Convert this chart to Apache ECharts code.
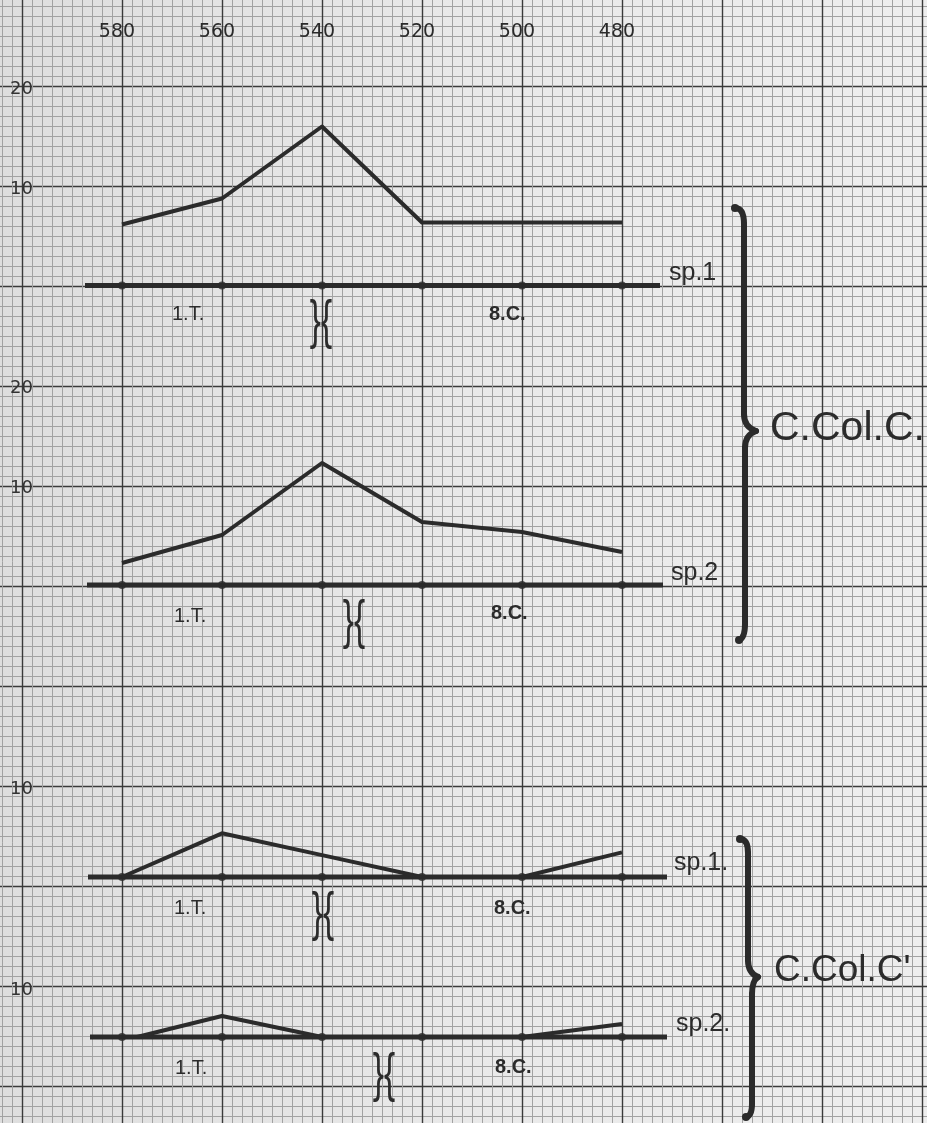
<!DOCTYPE html>
<html>
<head>
<meta charset="utf-8">
<script src="https://cdn.jsdelivr.net/npm/echarts@6/dist/echarts.min.js"></script>
<style>
html,body{margin:0;padding:0;background:#e8e8e8;}
#c{width:927px;height:1123px;}
</style>
</head>
<body>
<div id="c"></div>
<script>
// ---- data ----
const wavelengths = [580, 560, 540, 520, 500, 480];       // top tick labels / data x
const panel1Sp1 = [6.1, 8.7, 15.9, 6.3, 6.3, 6.3];        // C.Col.C.  sp.1
const panel2Sp2 = [2.2, 5.0, 12.2, 6.3, 5.3, 3.3];        // C.Col.C.  sp.2
const panel3Sp1 = [0, 4.8, 2.4, 0, 0, 2.7];               // C.Col.C'  sp.1
const panel4X   = [577, 560, 540, 520, 500, 480];
const panel4Sp2 = [0, 4.2, 0, 0, 0, 2.6];                 // C.Col.C'  sp.2
const panelMax  = [20, 20, 10, 10];
const baselineSpan = [[587.4, 472.4], [587, 471.8], [586.8, 471], [586.4, 471]];
const seriesLabels = ['sp.1', 'sp.2', 'sp.1.', 'sp.2.'];
const bandLabels = ['1.T.', '8.C.'];
const groupLabels = ['C.Col.C.', "C.Col.C'"];

// ---- layout (pixels) ----
const panelBox = [
  {top: 85.5, height: 200},
  {top: 385, height: 200},
  {top: 786, height: 91},
  {top: 987, height: 50}
];
const ink = '#2b2b2b';
const minorStyle = {color: '#a2a2a2', width: 1};
const majorStyle = {color: '#3a3a3a', width: 1.4};

// graph paper rulings: each sheet grid draws only one family of lines
const paper = [
  {box: {left: 2, top: 0, width: 920, height: 1123}, dir: 'x', max: 920, step: 10, style: minorStyle},
  {box: {left: 0, top: 6, width: 927, height: 1110}, dir: 'y', max: 1110, step: 10, style: minorStyle},
  {box: {left: 22, top: 0, width: 900, height: 1123}, dir: 'x', max: 900, step: 100, style: majorStyle},
  {box: {left: 0, top: 86, width: 927, height: 1000}, dir: 'y', max: 1000, step: 100, style: majorStyle}
];

const grids = [], xAxes = [], yAxes = [], series = [];
const hidden = {axisLine: {show: false}, axisTick: {show: false}, axisLabel: {show: false}};
paper.forEach((p, gi) => {
  grids.push(p.box);
  xAxes.push(Object.assign({gridIndex: gi, type: 'value', min: 0,
    max: p.dir === 'x' ? p.max : 100, interval: p.dir === 'x' ? p.step : 100,
    splitLine: {show: p.dir === 'x', lineStyle: p.style}}, hidden));
  yAxes.push(Object.assign({gridIndex: gi, type: 'value', min: 0,
    max: p.dir === 'y' ? p.max : 100, interval: p.dir === 'y' ? p.step : 100, inverse: true,
    splitLine: {show: p.dir === 'y', lineStyle: p.style}}, hidden));
  series.push({type: 'line', xAxisIndex: gi, yAxisIndex: gi, data: [], silent: true});
});

const P0 = paper.length;
panelBox.forEach((b, i) => {
  grids.push({left: 72, width: 600, top: b.top, height: b.height});
  xAxes.push({
    gridIndex: P0 + i, type: 'value', inverse: true, min: 470, max: 590, interval: 10,
    position: 'top', show: i === 0,
    axisLine: {show: false}, axisTick: {show: false}, splitLine: {show: false},
    axisLabel: {
      show: i === 0, margin: 44, fontSize: 19, fontFamily: 'DejaVu Sans', color: '#2a2a2a',
      padding: [0, 10, 0, 0],
      formatter: v => wavelengths.includes(v) ? String(v) : ''
    }
  });
  yAxes.push({
    gridIndex: P0 + i, type: 'value', min: 0, max: panelMax[i], interval: 10,
    axisLine: {show: false}, axisTick: {show: false}, splitLine: {show: false},
    axisLabel: {
      margin: 39,
      formatter: v => v === 0 ? '' : '{a|' + v + '}',
      rich: {a: {fontSize: 18, fontFamily: 'DejaVu Sans', color: '#333', padding: [7, 0, 0, 0]}}
    }
  });
});

const panelData = [
  wavelengths.map((w, k) => [w, panel1Sp1[k]]),
  wavelengths.map((w, k) => [w, panel2Sp2[k]]),
  wavelengths.map((w, k) => [w, panel3Sp1[k]]),
  panel4X.map((w, k) => [w, panel4Sp2[k]])
];
panelData.forEach((d, i) => {
  const ax = P0 + i;
  series.push({
    type: 'line', xAxisIndex: ax, yAxisIndex: ax, clip: false,
    data: baselineSpan[i].map(x => [x, 0]), symbol: 'none',
    lineStyle: {color: ink, width: 5}, z: 4, animation: false
  });
  series.push({
    type: 'scatter', xAxisIndex: ax, yAxisIndex: ax, clip: false,
    data: wavelengths.map(w => [w, 0]), symbol: 'circle', symbolSize: 8,
    itemStyle: {color: ink}, z: 4, animation: false
  });
  series.push({
    type: 'line', xAxisIndex: ax, yAxisIndex: ax, clip: false,
    data: d, symbol: 'none',
    lineStyle: {color: ink, width: 4, join: 'round'}, z: 5, animation: false
  });
});

function txt(text, x, y, size, opts) {
  return Object.assign({
    type: 'text', x: x, y: y, z: 20,
    style: Object.assign({
      text: text, fill: ink, fontSize: size, fontFamily: 'Liberation Sans',
      align: 'left', verticalAlign: 'middle'
    }, (opts && opts.style) || {})
  }, (opts && opts.el) || {});
}

// brace built from quadratic curves and straight runs
function brace(p) {
  const st = {fill: null, stroke: ink, lineWidth: 6, lineCap: 'round'};
  const q = (a, c, b) => ({type: 'bezierCurve', z: 20, shape: {x1: a[0], y1: a[1], cpx1: c[0], cpy1: c[1], x2: b[0], y2: b[1]}, style: st});
  const l = (a, b) => ({type: 'line', z: 20, shape: {x1: a[0], y1: a[1], x2: b[0], y2: b[1]}, style: st});
  return [
    q(p[0], p[1], p[2]),
    l(p[2], p[3]),
    q(p[3], p[4], p[5]),
    q(p[5], p[6], p[7]),
    l(p[7], p[8]),
    q(p[8], p[9], p[10]),
    {type: 'circle', z: 20, shape: {cx: p[0][0], cy: p[0][1], r: 4}, style: {fill: ink}},
    {type: 'circle', z: 20, shape: {cx: p[10][0], cy: p[10][1], r: 4}, style: {fill: ink}}
  ];
}

const graphics = [
  txt(seriesLabels[0], 669, 273, 25),
  txt(seriesLabels[1], 671, 573, 25),
  txt(seriesLabels[2], 674, 863, 25),
  txt(seriesLabels[3], 676, 1024, 25),
  txt(bandLabels[0], 172, 314, 20),
  txt(bandLabels[1], 489, 314, 20, {style: {fontWeight: 'bold'}}),
  txt(bandLabels[0], 174, 616, 20),
  txt(bandLabels[1], 491, 613, 20, {style: {fontWeight: 'bold'}}),
  txt(bandLabels[0], 174, 908, 20),
  txt(bandLabels[1], 494, 908, 20, {style: {fontWeight: 'bold'}}),
  txt(bandLabels[0], 175, 1068, 20),
  txt(bandLabels[1], 495, 1067, 20, {style: {fontWeight: 'bold'}}),
  txt('}{', 321, 323, 54, {style: {align: 'center'}, el: {scaleX: 0.62}}),
  txt('}{', 354, 623, 54, {style: {align: 'center'}, el: {scaleX: 0.62}}),
  txt('}{', 323, 915, 54, {style: {align: 'center'}, el: {scaleX: 0.62}}),
  txt('}{', 384, 1076, 54, {style: {align: 'center'}, el: {scaleX: 0.62}}),
  txt(groupLabels[0], 770, 429, 41),
  txt(groupLabels[1], 774, 971, 37)
].concat(
  brace([[735, 208], [744, 208], [744, 224], [744, 414], [744, 427], [756, 431], [745, 435], [745, 448], [745, 624], [745, 638], [739, 640]]),
  brace([[740, 839], [748, 839], [748, 853], [748, 960], [748, 973], [758, 977], [752, 981], [752, 994], [752, 1104], [752, 1116], [746, 1117]])
);

const chart = echarts.init(document.getElementById('c'), null, {renderer: 'canvas'});
chart.setOption({
  animation: false,
  backgroundColor: {
    type: 'linear', x: 0, y: 0, x2: 1, y2: 0,
    colorStops: [{offset: 0, color: '#dedede'}, {offset: 0.5, color: '#e9e9e9'}, {offset: 1, color: '#eeeeee'}]
  },
  grid: grids,
  xAxis: xAxes,
  yAxis: yAxes,
  series: series,
  graphic: graphics
});
</script>
</body>
</html>
